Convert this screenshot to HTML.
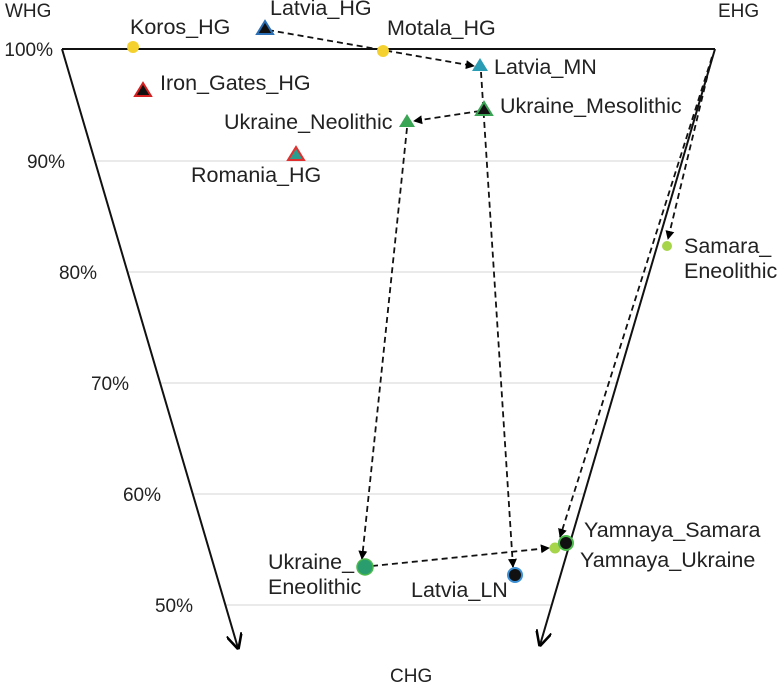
<!DOCTYPE html>
<html><head><meta charset="utf-8"><style>
body{margin:0;background:#fff}
svg text{font-family:"Liberation Sans",sans-serif;font-size:21.5px;fill:#222}
svg text.p{font-size:19px}
svg text.q{font-size:19px;text-anchor:end}
</style></head><body>
<svg width="777" height="683" viewBox="0 0 777 683" xmlns="http://www.w3.org/2000/svg">
<defs>
<marker id="ah" viewBox="0 0 10 10" refX="9" refY="5" markerWidth="9" markerHeight="9" markerUnits="userSpaceOnUse" orient="auto"><path d="M0,0 L10,5 L0,10 z" fill="#000"/></marker>
<marker id="ax" viewBox="0 0 10 10" refX="9" refY="5" markerWidth="16" markerHeight="16" markerUnits="userSpaceOnUse" orient="auto"><path d="M0,0 L10,5 L0,10" fill="none" stroke="#000" stroke-width="1.6"/></marker>
</defs>
<g stroke="#ddd" stroke-width="1.2">
<line x1="95" y1="161" x2="682" y2="161"/>
<line x1="127" y1="272" x2="650" y2="272"/>
<line x1="160" y1="383" x2="617" y2="383"/>
<line x1="193" y1="494" x2="584" y2="494"/>
<line x1="225" y1="605" x2="552" y2="605"/>
</g>
<g stroke="#111" stroke-width="2" fill="none">
<line x1="62" y1="49" x2="715" y2="49"/>
<line x1="62" y1="49" x2="238" y2="648" marker-end="url(#ax)"/>
<line x1="715" y1="49" x2="540" y2="645" marker-end="url(#ax)"/>
</g>
<text x="5" y="17" class="p">WHG</text>
<text x="718" y="17" class="p">EHG</text>
<text x="390" y="682" class="p">CHG</text>
<text x="53" y="56" class="q">100%</text>
<text x="65" y="168" class="q">90%</text>
<text x="97" y="279" class="q">80%</text>
<text x="129" y="390" class="q">70%</text>
<text x="161" y="501" class="q">60%</text>
<text x="193" y="612" class="q">50%</text>
<g stroke="#111" stroke-width="1.8" stroke-dasharray="6,4" fill="none" marker-end="url(#ah)">
<line x1="268" y1="30" x2="474" y2="66"/>
<line x1="480" y1="111" x2="414" y2="121"/>
<line x1="407" y1="128" x2="362" y2="559"/>
<line x1="481" y1="72" x2="513" y2="567"/>
<line x1="712" y1="57" x2="668" y2="239"/>
<line x1="712" y1="57" x2="560" y2="537"/>
<line x1="372" y1="566" x2="549" y2="548"/>
</g>
<circle cx="133" cy="47" r="6" fill="#f5d130"/>
<circle cx="383" cy="51" r="6" fill="#f5d130"/>
<path d="M265,21 L273,34 L257,34 z" fill="#111" stroke="#2a6fb5" stroke-width="2"/>
<path d="M480,58 L488,71 L472,71 z" fill="#2a9db5"/>
<path d="M143,83 L151,96 L135,96 z" fill="#111" stroke="#d42020" stroke-width="2"/>
<path d="M484,102 L492,115 L476,115 z" fill="#111" stroke="#3aa655" stroke-width="2"/>
<path d="M407,114 L415,127 L399,127 z" fill="#3aa655"/>
<path d="M296,147 L304,160 L288,160 z" fill="#2a9d8f" stroke="#e03030" stroke-width="2"/>
<circle cx="667" cy="246" r="5" fill="#a6d44a"/>
<circle cx="365" cy="567" r="8" fill="#2a9d6f" stroke="#4cbb4c" stroke-width="1.5"/>
<circle cx="515" cy="575" r="7" fill="#111" stroke="#3a8fd5" stroke-width="2"/>
<circle cx="555" cy="548" r="5.5" fill="#a6d44a"/>
<circle cx="566" cy="543" r="7" fill="#111" stroke="#4cbb4c" stroke-width="2"/>
<text x="130" y="34">Koros_HG</text>
<text x="270" y="15">Latvia_HG</text>
<text x="387" y="35">Motala_HG</text>
<text x="494" y="74">Latvia_MN</text>
<text x="160" y="90">Iron_Gates_HG</text>
<text x="500" y="113">Ukraine_Mesolithic</text>
<text x="224" y="129">Ukraine_Neolithic</text>
<text x="191" y="182">Romania_HG</text>
<text x="684" y="253">Samara_</text>
<text x="684" y="278">Eneolithic</text>
<text x="268" y="569">Ukraine_</text>
<text x="268" y="594">Eneolithic</text>
<text x="411" y="597">Latvia_LN</text>
<text x="584" y="537">Yamnaya_Samara</text>
<text x="580" y="567">Yamnaya_Ukraine</text>
</svg>
</body></html>
